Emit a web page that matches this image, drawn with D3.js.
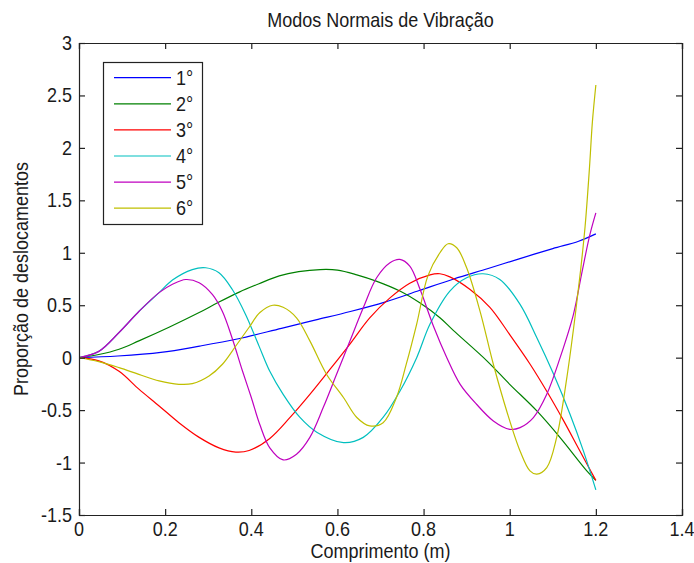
<!DOCTYPE html>
<html>
<head>
<meta charset="utf-8">
<script src="https://cdn.jsdelivr.net/npm/d3@7"></script>
<style>
  html, body { margin: 0; padding: 0; background: #fff; }
  svg { display: block; }
  text { font-family: "Liberation Sans", Arial, Helvetica, sans-serif; font-size: 20px; fill: #1a1a1a; }
</style>
</head>
<body>
<svg id="chart" width="694" height="563"></svg>
<script>
// Mode shapes: [comprimento (m), deslocamento relativo]
const mode1 = [[0,0],[0.09,0.016],[0.19,0.05],[0.28,0.11],[0.37,0.18],[0.47,0.28],[0.55,0.36],[0.63,0.44],[0.71,0.53],[0.79,0.64],[0.87,0.75],[0.95,0.85],[1.02,0.94],[1.1,1.04],[1.16,1.11],[1.2,1.18]];
const mode2 = [[0,0],[0.046,0.03],[0.093,0.08],[0.139,0.16],[0.209,0.29],[0.279,0.43],[0.325,0.53],[0.372,0.625],[0.418,0.705],[0.465,0.78],[0.51,0.82],[0.56,0.84],[0.6,0.835],[0.645,0.79],[0.69,0.73],[0.745,0.635],[0.792,0.52],[0.838,0.38],[0.869,0.26],[0.947,-0.03],[1.0,-0.254],[1.063,-0.508],[1.117,-0.762],[1.179,-1.079],[1.2,-1.17]];
const mode3 = [[0,0],[0.046,-0.03],[0.093,-0.13],[0.139,-0.30],[0.186,-0.46],[0.232,-0.62],[0.279,-0.76],[0.325,-0.86],[0.364,-0.9],[0.395,-0.885],[0.443,-0.77],[0.49,-0.57],[0.536,-0.35],[0.583,-0.11],[0.629,0.13],[0.675,0.38],[0.722,0.57],[0.768,0.71],[0.815,0.79],[0.838,0.80],[0.861,0.77],[0.908,0.65],[0.954,0.48],[1.0,0.22],[1.047,-0.06],[1.086,-0.32],[1.125,-0.60],[1.163,-0.89],[1.2,-1.17]];
const mode4 = [[0,0],[0.046,0.06],[0.093,0.24],[0.139,0.44],[0.186,0.62],[0.217,0.74],[0.263,0.84],[0.294,0.857],[0.325,0.81],[0.356,0.65],[0.387,0.41],[0.418,0.11],[0.443,-0.13],[0.474,-0.35],[0.513,-0.57],[0.552,-0.71],[0.614,-0.81],[0.66,-0.76],[0.706,-0.57],[0.745,-0.32],[0.784,0.0],[0.815,0.32],[0.861,0.635],[0.9,0.762],[0.938,0.80],[0.977,0.746],[1.024,0.508],[1.063,0.19],[1.102,-0.159],[1.14,-0.54],[1.171,-0.889],[1.2,-1.26]];
const mode5 = [[0,0],[0.046,0.06],[0.093,0.24],[0.139,0.44],[0.186,0.62],[0.217,0.70],[0.248,0.745],[0.279,0.714],[0.31,0.60],[0.333,0.44],[0.356,0.18],[0.379,-0.12],[0.40,-0.38],[0.42,-0.64],[0.443,-0.86],[0.474,-0.975],[0.505,-0.92],[0.536,-0.76],[0.567,-0.476],[0.598,-0.159],[0.629,0.159],[0.66,0.476],[0.691,0.762],[0.722,0.905],[0.745,0.937],[0.768,0.873],[0.792,0.65],[0.823,0.30],[0.854,0.0],[0.885,-0.254],[0.923,-0.444],[0.962,-0.603],[1.0,-0.683],[1.024,-0.667],[1.055,-0.571],[1.086,-0.349],[1.117,0.0],[1.148,0.413],[1.167,0.80],[1.186,1.17],[1.2,1.38]];
const mode6 = [[0,0],[0.046,-0.038],[0.093,-0.095],[0.139,-0.159],[0.186,-0.222],[0.232,-0.254],[0.263,-0.248],[0.302,-0.175],[0.333,-0.063],[0.364,0.111],[0.395,0.29],[0.42,0.43],[0.45,0.50],[0.474,0.48],[0.505,0.38],[0.536,0.16],[0.575,-0.16],[0.614,-0.38],[0.645,-0.57],[0.675,-0.65],[0.706,-0.62],[0.737,-0.38],[0.76,-0.06],[0.784,0.32],[0.81,0.78],[0.838,1.0],[0.857,1.086],[0.877,1.048],[0.9,0.857],[0.931,0.444],[0.962,-0.063],[0.993,-0.508],[1.024,-0.889],[1.047,-1.079],[1.063,-1.111],[1.086,-1.048],[1.109,-0.76],[1.133,-0.18],[1.152,0.40],[1.165,0.85],[1.175,1.25],[1.185,1.80],[1.192,2.25],[1.2,2.6]];

const seriesNames = ["1°", "2°", "3°", "4°", "5°", "6°"];
const seriesColors = ["#0000ff", "#008000", "#ff0000", "#00bfbf", "#bf00bf", "#bfbf00"];
const seriesData = [mode1, mode2, mode3, mode4, mode5, mode6];

const xTickValues = [0, 0.2, 0.4, 0.6, 0.8, 1, 1.2, 1.4];
const xTickLabels = ["0", "0.2", "0.4", "0.6", "0.8", "1", "1.2", "1.4"];
const yTickValues = [-1.5, -1, -0.5, 0, 0.5, 1, 1.5, 2, 2.5, 3];
const yTickLabels = ["-1.5", "-1", "-0.5", "0", "0.5", "1", "1.5", "2", "2.5", "3"];

const titleText = "Modos Normais de Vibração";
const xLabelText = "Comprimento (m)";
const yLabelText = "Proporção de deslocamentos";

// Layout of the axes box
const plotLeft = 79, plotRight = 682, plotTop = 43, plotBottom = 515;
const tickLen = 6;
const axisColor = "#222";

const svg = d3.select("#chart");

const x = d3.scaleLinear().domain([0, 1.4]).range([plotLeft, plotRight]);
const y = d3.scaleLinear().domain([-1.5, 3]).range([plotBottom, plotTop]);

// Narrow-looking labels: squeeze glyphs horizontally
function label(parent, px, py, s, anchor, rot) {
  let t = `translate(${px},${py})`;
  if (rot) t += ` rotate(${rot})`;
  t += " scale(0.9,1)";
  return parent.append("text")
    .attr("transform", t)
    .attr("text-anchor", anchor)
    .text(s);
}

// Curves (clipped to the axes box)
svg.append("clipPath").attr("id", "plotclip")
  .append("rect").attr("x", plotLeft).attr("y", plotTop)
  .attr("width", plotRight - plotLeft).attr("height", plotBottom - plotTop);

const line = d3.line()
  .x(d => x(d[0]))
  .y(d => y(d[1]))
  .curve(d3.curveCatmullRom.alpha(0.5));

const curves = svg.append("g").attr("clip-path", "url(#plotclip)");
seriesData.forEach((data, i) => {
  curves.append("path")
    .datum(data)
    .attr("d", line)
    .attr("fill", "none")
    .attr("stroke", seriesColors[i])
    .attr("stroke-width", 1.2)
    .attr("stroke-linejoin", "round");
});

// Axes: bottom/left with inward ticks, mirrored on top/right
const axG = svg.append("g");
const xAxisB = d3.axisBottom(x).tickValues(xTickValues).tickSize(-tickLen).tickFormat("");
const xAxisT = d3.axisTop(x).tickValues(xTickValues).tickSize(-tickLen).tickFormat("");
const yAxisL = d3.axisLeft(y).tickValues(yTickValues).tickSize(-tickLen).tickFormat("");
const yAxisR = d3.axisRight(y).tickValues(yTickValues).tickSize(-tickLen).tickFormat("");

[[xAxisB, `translate(0,${plotBottom})`], [xAxisT, `translate(0,${plotTop})`],
 [yAxisL, `translate(${plotLeft},0)`], [yAxisR, `translate(${plotRight},0)`]].forEach(([ax, tr]) => {
  const g = axG.append("g").attr("transform", tr).call(ax);
  g.selectAll("path.domain").attr("stroke", axisColor).attr("stroke-width", 1.2);
  g.selectAll(".tick line").attr("stroke", axisColor).attr("stroke-width", 1.2);
});

// Tick labels
const labelsG = svg.append("g");
xTickValues.forEach((v, i) => label(labelsG, x(v), plotBottom + 21, xTickLabels[i], "middle"));
yTickValues.forEach((v, i) => label(labelsG, plotLeft - 7, y(v) + 7, yTickLabels[i], "end"));

// Title and axis labels
label(svg, (plotLeft + plotRight) / 2, 27, titleText, "middle");
label(svg, (plotLeft + plotRight) / 2, 558, xLabelText, "middle");
label(svg, 28, (plotTop + plotBottom) / 2, yLabelText, "middle", -90);

// Legend
const legend = svg.append("g");
legend.append("rect")
  .attr("x", 103.5).attr("y", 62.5).attr("width", 99).attr("height", 162)
  .attr("fill", "#fff").attr("stroke", axisColor).attr("stroke-width", 1.2);
seriesNames.forEach((name, i) => {
  const ry = 77.7 + i * 26.1;
  legend.append("line")
    .attr("x1", 114).attr("x2", 171).attr("y1", ry).attr("y2", ry)
    .attr("stroke", seriesColors[i]).attr("stroke-width", 1.2);
  label(legend, 176, ry + 7, name, "start");
});
</script>
</body>
</html>
